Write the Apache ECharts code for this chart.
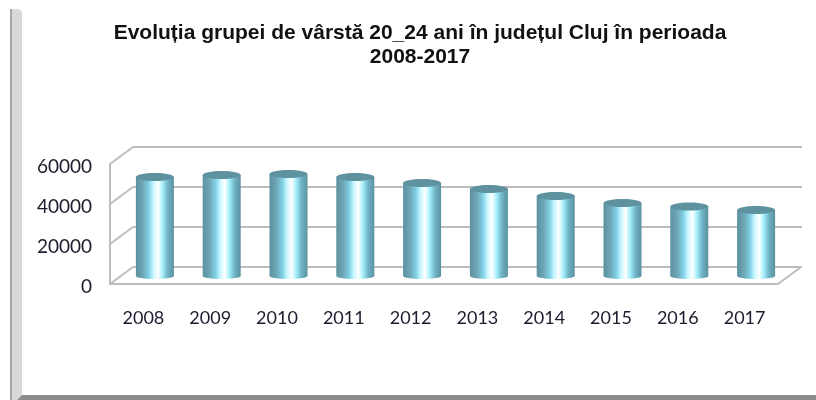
<!DOCTYPE html>
<html>
<head>
<meta charset="utf-8">
<style>html,body{margin:0;padding:0;background:#fff}#chart{width:816px;height:400px}</style>
<script src="https://cdn.jsdelivr.net/npm/echarts@6/dist/echarts.min.js"></script>
</head>
<body>
<div id="chart"></div>
<script>
const years = ['2008', '2009', '2010', '2011', '2012', '2013', '2014', '2015', '2016', '2017'];
const persons = [49500, 50500, 51000, 49500, 46500, 43500, 40000, 36500, 34800, 33000];
const yTicks = [0, 20000, 40000, 60000];

const chart = echarts.init(document.getElementById('chart'));

// adancimea peretelui 3D
const depthX = 23, depthY = -17;
const gridColor = '#bdbdbd';
const cylFill = new echarts.graphic.LinearGradient(0, 0, 1, 0, [
    { offset: 0, color: '#5b919f' },
    { offset: 0.18, color: '#6fa6b6' },
    { offset: 0.34, color: '#7fd0e6' },
    { offset: 0.46, color: '#c8f7ff' },
    { offset: 0.58, color: '#ffffff' },
    { offset: 0.7, color: '#a5f0fb' },
    { offset: 0.84, color: '#6fb3c6' },
    { offset: 1, color: '#5b919f' }
]);

function renderSideWall(params, api) {
    const p = api.coord([0, api.value(0)]);
    const left = params.coordSys.x;
    return {
        type: 'line',
        shape: { x1: left, y1: p[1], x2: left + depthX, y2: p[1] + depthY },
        style: { stroke: gridColor, lineWidth: 2 }
    };
}

function renderFloorEdge(params, api) {
    const p = api.coord([0, 0]);
    const right = params.coordSys.x + params.coordSys.width;
    return {
        type: 'line',
        shape: { x1: right, y1: p[1], x2: right + depthX, y2: p[1] + depthY },
        style: { stroke: gridColor, lineWidth: 2 }
    };
}

function renderCylinder(params, api) {
    const top = api.coord([api.value(0), api.value(1)]);
    const base = api.coord([api.value(0), 0]);
    const w = 38, ry = 4;
    const x = top[0] - w / 2;
    return {
        type: 'group',
        children: [
            { type: 'rect', shape: { x: x, y: top[1], width: w, height: base[1] - top[1] }, style: { fill: cylFill } },
            { type: 'ellipse', shape: { cx: top[0], cy: base[1], rx: w / 2, ry: 3 }, style: { fill: cylFill } },
            { type: 'ellipse', shape: { cx: top[0], cy: top[1], rx: w / 2, ry: ry }, style: { fill: '#5f929f' } }
        ]
    };
}

const option = {
    animation: false,
    title: {
        text: 'Evoluția grupei de vârstă 20_24 ani în județul Cluj în perioada\n2008-2017',
        left: 421,
        top: 16,
        textAlign: 'center',
        textStyle: { fontFamily: 'Liberation Sans', fontSize: 21, fontWeight: 'bold', color: '#111', lineHeight: 24 }
    },
    graphic: [
        { type: 'polygon', silent: true, shape: { points: [[10, 9], [19, 9], [22, 12], [22, 395], [17, 400], [10, 400]] }, style: { fill: '#d9d9d9' } },
        { type: 'line', silent: true, shape: { x1: 11, y1: 9, x2: 11, y2: 400 }, style: { stroke: '#a6a6a6', lineWidth: 2 } },
        { type: 'polygon', silent: true, shape: { points: [[22, 395], [816, 395], [816, 400], [17, 400]] }, style: { fill: '#8c8c8c' } }
    ],
    grid: [
        { left: 133, top: 147, width: 669, height: 120 },   // perete spate
        { left: 110, top: 164, width: 668, height: 120 },   // plan fata
        { left: 121.5, top: 156, width: 668, height: 120 }, // cilindri
        { left: 110, top: 166.5, width: 668, height: 120 }  // etichete axa y
    ],
    xAxis: [
        { gridIndex: 0, type: 'category', data: years, show: false },
        {
            gridIndex: 1, type: 'category', data: years,
            axisLine: { lineStyle: { color: gridColor, width: 2 } },
            axisTick: { show: false },
            axisLabel: { margin: 25, fontFamily: 'Lato', fontSize: 18, color: '#1c1c2e' }
        },
        { gridIndex: 2, type: 'category', data: years, show: false },
        { gridIndex: 3, type: 'category', data: years, show: false }
    ],
    yAxis: [
        {
            gridIndex: 0, type: 'value', min: 0, max: 60000, interval: 20000,
            axisLine: { show: false }, axisTick: { show: false }, axisLabel: { show: false },
            splitLine: { lineStyle: { color: gridColor, width: 2 } }
        },
        {
            gridIndex: 1, type: 'value', min: 0, max: 60000, interval: 20000,
            axisLine: { show: true, lineStyle: { color: gridColor, width: 2 } },
            axisTick: { show: false }, axisLabel: { show: false },
            splitLine: { show: false }
        },
        { gridIndex: 2, type: 'value', min: 0, max: 60000, show: false, splitLine: { show: false } },
        {
            gridIndex: 3, type: 'value', min: 0, max: 60000, interval: 20000,
            axisLine: { show: false }, axisTick: { show: false }, splitLine: { show: false },
            axisLabel: {
                margin: 18, fontFamily: 'Lato', fontSize: 19, color: '#1c1c2e',
                formatter: function (v) { return String(v); }
            }
        }
    ],
    series: [
        {
            type: 'custom', xAxisIndex: 1, yAxisIndex: 1, silent: true,
            data: yTicks.map(v => [v]),
            encode: { y: 0 },
            renderItem: renderSideWall
        },
        {
            type: 'custom', xAxisIndex: 1, yAxisIndex: 1, silent: true,
            data: [[0]],
            encode: { y: 0 },
            renderItem: renderFloorEdge
        },
        {
            type: 'custom', xAxisIndex: 2, yAxisIndex: 2, silent: true, z: 5,
            data: persons.map((v, i) => [i, v]),
            encode: { x: 0, y: 1 },
            renderItem: renderCylinder
        }
    ]
};

// titlul e centrat putin la stanga fata de zona graficului
option.title.left = 415;

chart.setOption(option);
</script>
</body>
</html>
